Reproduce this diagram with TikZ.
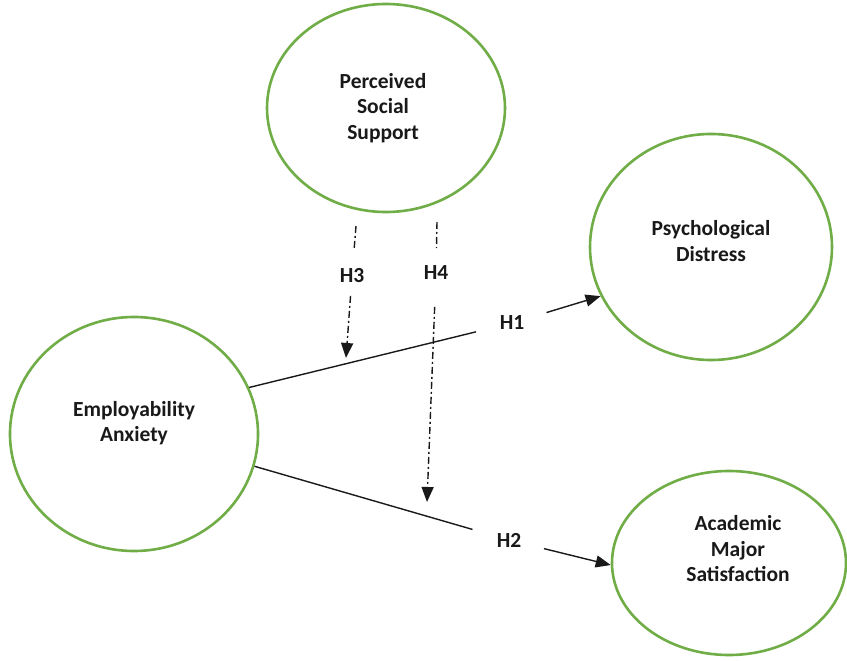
\documentclass[tikz,border=0pt]{standalone}
\usepackage{fontspec}
\setmainfont{Carlito}
\usetikzlibrary{shapes.geometric,arrows.meta}
\definecolor{bubblegreen}{HTML}{70AD47}
\begin{document}
\begin{tikzpicture}[x=1pt,y=-1pt,
  bubble/.style={ellipse,draw=bubblegreen,line width=2.6pt,fill=white,inner sep=0pt},
  txt/.style={font=\fontsize{21.5}{25.5}\selectfont\bfseries,align=center,text=black!90},
  conn/.style={line width=1.4pt,black!90},
  head/.style={-{Triangle[length=15pt,width=12pt]}},
  modline/.style={conn,dash pattern=on 7pt off 3pt on 2pt off 3pt}
]
\useasboundingbox (0,0) rectangle (847,661);
% constructs
\node[bubble,minimum width=238pt,minimum height=208pt] (pss) at (386,108) {};
\node[bubble,minimum width=242pt,minimum height=226pt] (pd) at (711,247) {};
\node[bubble,minimum width=248pt,minimum height=234pt] (ea) at (134,434) {};
\node[bubble,minimum width=234pt,minimum height=184pt] (ams) at (729,563) {};
% texts
\node[txt] (pssT) at (383,108) {Perceived\\Social\\Support};
\node[txt] (pdT) at (711,241) {Psychological\\Distress};
\node[txt] (eaT) at (134,423) {Employability\\Anxiety};
\node[txt] (amsT) at (738,549) {Academic\\Major\\Satisfaction};
% hypothesis labels
\node[txt] (h1) at (512,323) {H1};
\node[txt] (h2) at (509,540) {H2};
\node[txt] (h3) at (352,276) {H3};
\node[txt] (h4) at (436,273) {H4};
% free ends of moderating paths
\coordinate (h3top) at (356,226);
\coordinate (h3end) at (346,358);
\coordinate (h4top) at (437,222);
\coordinate (h4end) at (427,502);
% direct paths
\draw[conn,shorten >=37pt] (ea.22) -- (h1.center);
\draw[conn,head,shorten <=36pt] (h1.center) -- (pd.204);
\draw[conn,shorten >=38pt] (ea.-15) -- (h2.center);
\draw[conn,head,shorten <=36pt] (h2.center) -- (ams.181);
% moderating paths
\draw[modline,shorten >=26pt] (h3top) -- (h3.center);
\draw[modline,head,shorten <=20pt] (h3.center) -- (h3end);
\draw[modline,shorten >=25pt] (h4top) -- (h4.center);
\draw[modline,head,shorten <=34pt] (h4.center) -- (h4end);
\end{tikzpicture}
\end{document}
